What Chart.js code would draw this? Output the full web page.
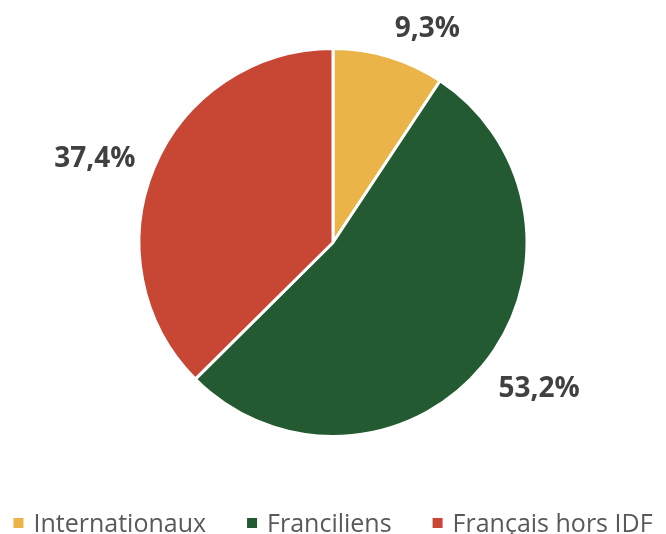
<!DOCTYPE html>
<html>
<head>
<meta charset="utf-8">
<script src="https://cdn.jsdelivr.net/npm/chart.js@4"></script>
<style>
  html, body { margin: 0; padding: 0; background: #fff; }
  #wrap { width: 666px; height: 534px; }
</style>
</head>
<body>
<div id="wrap"><canvas id="chart-origine"></canvas></div>
<script>
// Origine des visiteurs (part en %)
const categories = ['Internationaux', 'Franciliens', 'Français hors IDF'];
const shares = [9.3, 53.2, 37.4];
const sliceColors = ['#EAB448', '#245A31', '#C84634'];

const fmtPct = v => v.toFixed(1).replace('.', ',') + '%';

// Labels outside each slice, anchored a bit beyond the outer edge
const outerLabels = {
    id: 'outerLabels',
    afterDatasetsDraw(chart) {
        const ctx = chart.ctx;
        const meta = chart.getDatasetMeta(0);
        ctx.save();
        ctx.font = "bold 28px 'Open Sans', sans-serif";
        ctx.fillStyle = '#404040';
        ctx.textBaseline = 'middle';
        meta.data.forEach((arc, i) => {
            const mid = (arc.startAngle + arc.endAngle) / 2;
            const dx = Math.cos(mid), dy = Math.sin(mid);
            const R = arc.outerRadius + 20;
            const px = arc.x + dx * R;
            const py = arc.y + dy * R;
            ctx.textAlign = dx >= 0 ? 'left' : 'right';
            ctx.fillText(fmtPct(shares[i]), px, py + dy * 12 + 3);
        });
        ctx.restore();
    }
};

// Legend drawn in one row at the bottom, wider spacing than the built-in one allows
const bottomLegend = {
    id: 'bottomLegend',
    afterDraw(chart) {
        const ctx = chart.ctx;
        const box = 10, gapText = 10, gapItem = 41;
        ctx.save();
        ctx.font = "25px 'Open Sans', sans-serif";
        const widths = categories.map(c => box + gapText + ctx.measureText(c).width);
        const total = widths.reduce((a, b) => a + b, 0) + gapItem * (categories.length - 1);
        let x = (chart.width - total) / 2;
        ctx.textBaseline = 'alphabetic';
        ctx.textAlign = 'left';
        categories.forEach((c, i) => {
            ctx.fillStyle = sliceColors[i];
            ctx.fillRect(x, 518, box, box);
            ctx.fillStyle = '#595959';
            ctx.fillText(c, x + box + gapText, 532);
            x += widths[i] + gapItem;
        });
        ctx.restore();
    }
};

new Chart(document.getElementById('chart-origine'), {
    type: 'pie',
    data: {
        labels: categories,
        datasets: [{
            data: shares,
            backgroundColor: sliceColors,
            borderColor: '#ffffff',
            borderWidth: 3
        }]
    },
    options: {
        responsive: true,
        maintainAspectRatio: false,
        animation: false,
        layout: { padding: { top: 47, bottom: 96, left: 0, right: 0 } },
        plugins: {
            legend: { display: false },
            tooltip: { enabled: false }
        }
    },
    plugins: [outerLabels, bottomLegend]
});
</script>
</body>
</html>
